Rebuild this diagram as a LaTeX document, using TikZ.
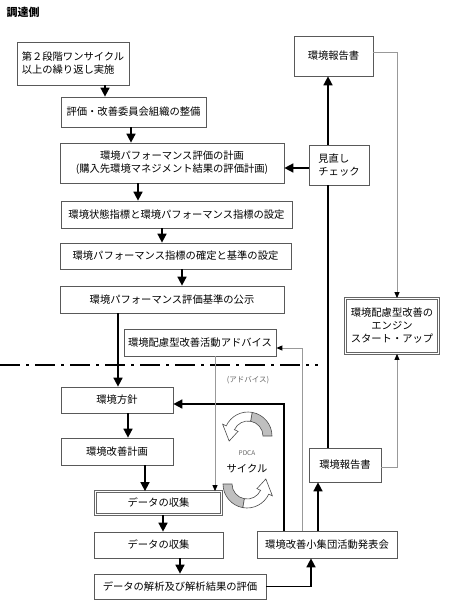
\documentclass[tikz,border=0pt]{standalone}
\usepackage{fontspec}
\setmainfont{Noto Sans CJK JP}
\usetikzlibrary{arrows.meta,calc}

\begin{document}
\begin{tikzpicture}[x=1pt,y=1pt,
    box/.style={draw=black!65, line width=0.7pt, fill=white, inner sep=2pt, align=center, font=\fontsize{10.3}{13}\selectfont},
    dbox/.style={box, draw=black!60, line width=0.8pt, double=white, double distance=1.8pt},
    arr/.style={line width=1.6pt, -{Triangle[width=9pt,length=9pt]}},
    garr/.style={draw=black!40, line width=0.9pt, -{Triangle[width=5pt,length=6pt,color=black]}},
    cyc/.style={draw=black!70, line width=0.6pt}]
        \useasboundingbox (0,0) rectangle (450,-600);
        % left column
        \node[anchor=west, font=\fontsize{11}{13}\selectfont\bfseries] (title) at (3,-12) {調達側};
        \node[box, minimum width=112pt, minimum height=43pt, align=left] (b1) at (73,-63.5) {第２段階ワンサイクル\\以上の繰り返し実施};
        \node[box, minimum width=145pt, minimum height=30pt] (b2) at (133.5,-112) {評価・改善委員会組織の整備};
        \node[box, minimum width=224pt, minimum height=40pt] (b3) at (172,-163) {環境パフォーマンス評価の計画\\(購入先環境マネジメント結果の評価計画)};
        \node[box, minimum width=231pt, minimum height=27pt] (b4) at (176.5,-214.5) {環境状態指標と環境パフォーマンス指標の設定};
        \node[box, minimum width=231pt, minimum height=26pt] (b5) at (175.5,-256) {環境パフォーマンス指標の確定と基準の設定};
        \node[box, minimum width=224pt, minimum height=27pt] (b6) at (172,-299.5) {環境パフォーマンス評価基準の公示};
        \node[box, minimum width=152pt, minimum height=27pt] (adv) at (200,-342.5) {環境配慮型改善活動アドバイス};
        \node[box, minimum width=112pt, minimum height=26pt] (hoshin) at (117,-400) {環境方針};
        \node[box, minimum width=112pt, minimum height=27pt] (keikaku) at (117,-451.5) {環境改善計画};
        \node[dbox, minimum width=126pt, minimum height=23pt] (col1) at (158.5,-503) {データの収集};
        \node[box, minimum width=129pt, minimum height=26pt] (col2) at (158.5,-545) {データの収集};
        \node[box, minimum width=172pt, minimum height=25pt] (eval) at (180,-586.5) {データの解析及び解析結果の評価};
        % right column
        \node[box, minimum width=79pt, minimum height=40pt] (rep1) at (333.5,-56) {環境報告書};
        \node[box, minimum width=60pt, minimum height=40pt, align=left] (minaoshi) at (339,-165) {見直し\\チェック};
        \node[dbox, minimum width=93pt, minimum height=55pt] (engine) at (392,-326) {環境配慮型改善の\\エンジン\\スタート・アップ};
        \node[box, minimum width=72pt, minimum height=34pt] (rep2) at (345,-465) {環境報告書};
        \node[box, minimum width=140pt, minimum height=27pt] (happyo) at (327,-544.5) {環境改善小集団活動発表会};
        % PDCA
        \node[font=\fontsize{7.5}{9}\selectfont, text=black!60] (advlbl) at (248,-380) {(アドバイス)};
        \node[font=\fontsize{6.5}{8}\selectfont, text=black!60] (pdca) at (247,-453) {PDCA};
        \node[font=\fontsize{10.3}{12}\selectfont] (cycle) at (247,-469) {サイクル};
        \coordinate (c1) at (248,-436);
        \coordinate (c2) at (247,-484);
        \filldraw[cyc, fill=black!25] ($(c1)+(0:24)$) arc[start angle=0,end angle=80,radius=24] -- ($(c1)+(80:15)$) arc[start angle=80,end angle=0,radius=15] -- cycle;
        \filldraw[cyc, fill=white] ($(c1)+(80:24)$) arc[start angle=80,end angle=155,radius=24] -- ($(c1)+(155:28)$) -- ($(c1)+(195:19.5)$) -- ($(c1)+(155:11)$) -- ($(c1)+(155:15)$) arc[start angle=155,end angle=80,radius=15] -- cycle;
        \filldraw[cyc, fill=black!25] ($(c2)+(180:24)$) arc[start angle=180,end angle=260,radius=24] -- ($(c2)+(260:15)$) arc[start angle=260,end angle=180,radius=15] -- cycle;
        \filldraw[cyc, fill=white] ($(c2)+(260:24)$) arc[start angle=260,end angle=335,radius=24] -- ($(c2)+(335:28)$) -- ($(c2)+(15:19.5)$) -- ($(c2)+(335:11)$) -- ($(c2)+(335:15)$) arc[start angle=335,end angle=260,radius=15] -- cycle;
        % separator
        \draw[line width=1.5pt, dash pattern=on 20pt off 6pt on 3pt off 6pt] (0,-365) -- (318,-365);
        % flow
        \draw[arr] (105,0 |- b1.south) -- (105,0 |- b2.north);
        \draw[arr] (131,0 |- b2.south) -- (131,0 |- b3.north);
        \draw[arr] (138,0 |- b3.south) -- (138,0 |- b4.north);
        \draw[arr] (162,0 |- b4.south) -- (162,0 |- b5.north);
        \draw[arr] (182,0 |- b5.south) -- (182,0 |- b6.north);
        \draw[arr] (118,0 |- b6.south) -- (118,0 |- hoshin.north);
        \draw[arr] (128,0 |- hoshin.south) -- (128,0 |- keikaku.north);
        \draw[arr] (145,0 |- keikaku.south) -- (145,0 |- col1.north);
        \draw[arr] (163,0 |- col1.south) -- (163,0 |- col2.north);
        \draw[arr] (180,0 |- col2.south) -- (180,0 |- eval.north);
        \draw[arr] (eval.east) -| (311,0 |- happyo.south);
        \draw[arr] (318,0 |- happyo.north) -- (318,0 |- rep2.south);
        \draw[arr] (284,0 |- happyo.north) |- (hoshin.east |- 0,-404);
        \draw[line width=1.6pt] (328,0 |- rep2.north) -- (328,0 |- minaoshi.south);
        \draw[arr] (minaoshi.west |- 0,-168) -- (b3.east |- 0,-168);
        \draw[arr] (328,0 |- minaoshi.north) -- (328,0 |- rep1.south);
        % gray links
        \draw[garr] (rep1.east |- 0,-52) -| (397,0 |- engine.north);
        \draw[garr] (rep2.east |- 0,-467) -| (397,0 |- engine.south);
        \draw[garr] (302,0 |- happyo.north) |- (adv.east |- 0,-348);
        \draw[garr] (215,0 |- adv.south) -- (215,0 |- col1.north);
\end{tikzpicture}
\end{document}
